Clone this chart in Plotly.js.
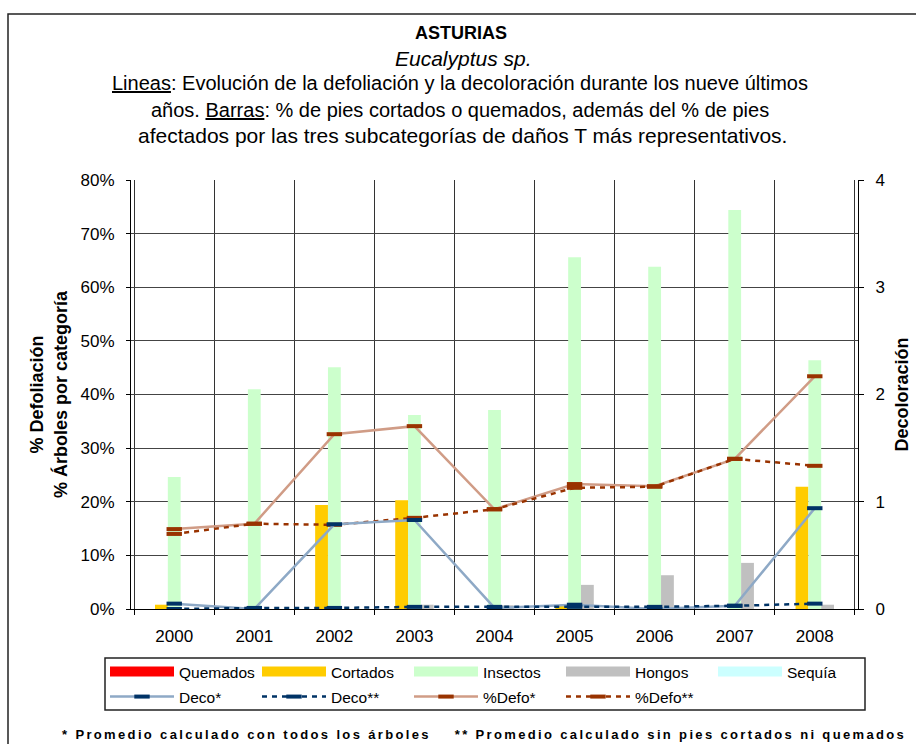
<!DOCTYPE html>
<html>
<head>
<meta charset="utf-8">
<script src="https://cdn.plot.ly/plotly-3.0.1.min.js"></script>
<style>
  html, body { margin: 0; padding: 0; background: #fff; }
  #chart { width: 916px; height: 744px; }
</style>
</head>
<body>
<div id="chart"></div>
<script>
(function() {
  var FONT = 'Liberation Sans, Arial, sans-serif';

  // categories
  var years = ['2000','2001','2002','2003','2004','2005','2006','2007','2008'];

  // bars, % of trees (left axis)
  var quemados = [0, 0, 0, 0, 0, 0, 0, 0, 0];
  var cortados = [0.8, 0, 19.4, 20.3, 0, 0.6, 0, 0, 22.8];
  var insectos = [24.6, 41.0, 45.1, 36.2, 37.1, 65.6, 63.8, 74.4, 46.4];
  var hongos   = [0, 0, 0, 0.8, 0.7, 4.5, 6.3, 8.6, 0.8];
  var sequia   = [0, 0, 0, 0, 0, 0, 0, 0, 0];

  // lines
  var deco1 = [0.05, 0.0, 0.79, 0.83, 0.01, 0.04, 0.0, 0.03, 0.94];   // right axis
  var deco2 = [0.0, 0.01, 0.01, 0.02, 0.02, 0.02, 0.02, 0.03, 0.05]; // right axis
  var defo1 = [14.9, 15.9, 32.6, 34.1, 18.6, 23.3, 22.9, 28.0, 43.4];
  var defo2 = [14.0, 15.9, 15.7, 17.0, 18.6, 22.6, 22.8, 28.0, 26.7];

  var BAR_NAMES  = ['Quemados','Cortados','Insectos','Hongos','Sequía'];
  var BAR_COLORS = ['#FF0000','#FFCC00','#CCFFCC','#C0C0C0','#CCFFFF'];
  var barVals = [quemados, cortados, insectos, hongos, sequia];

  var traces = [];

  // legend-only swatches (wide, flat like the original key)
  BAR_NAMES.forEach(function(n, i) {
    traces.push({
      x: [null], y: [null], type: 'scatter', mode: 'lines', name: n,
      line: {color: BAR_COLORS[i], width: 10}, hoverinfo: 'skip', legend: 'legend'
    });
  });

  barVals.forEach(function(v, i) {
    traces.push({
      x: years, y: v, type: 'bar', name: BAR_NAMES[i],
      marker: {color: BAR_COLORS[i], line: {width: 0}}, showlegend: false
    });
  });

  function lineTrace(name, y, axis, color, mcolor, dash, width) {
    return {
      x: years, y: y, yaxis: axis, type: 'scatter', mode: 'lines+markers',
      name: name, legend: 'legend2',
      line: {color: color, width: width, dash: dash},
      marker: {symbol: 'line-ew', size: 11, color: mcolor,
               line: {color: mcolor, width: 4}}
    };
  }

  traces.push(lineTrace('Deco*',  deco1, 'y2', '#8EA9C6', '#003366', 'solid', 2.5));
  traces.push(lineTrace('Deco**', deco2, 'y2', '#003366', '#003366', '5px,5px', 2.5));
  traces.push(lineTrace('%Defo*',  defo1, 'y', '#D09C86', '#993300', 'solid', 2.5));
  traces.push(lineTrace('%Defo**', defo2, 'y', '#993300', '#993300', '5px,5px', 2.5));

  function f(size, extra) {
    var o = {family: FONT, color: '#000', size: size};
    for (var k in extra) o[k] = extra[k];
    return o;
  }

  var py = function(px) { return (609 - px) / 429; };   // pixel row -> paper y
  var pxX = function(px) { return (px - 131) / 727; };  // pixel col -> paper x

  var annotations = [
    {text: 'ASTURIAS', x: pxX(461), y: py(33), font: f(18, {weight: 'bold'})},
    {text: 'Eucalyptus sp.', x: pxX(463), y: py(58), font: f(21, {style: 'italic'})},
    {text: '<span style="text-decoration:underline">Lineas</span>: Evolución de la defoliación y la decoloración durante los nueve últimos',
     x: pxX(460), y: py(83), font: f(20)},
    {text: 'años. <span style="text-decoration:underline">Barras</span>: % de pies cortados o quemados, además del % de pies',
     x: pxX(460), y: py(110), font: f(20)},
    {text: 'afectados por las tres subcategorías de daños T más representativos.',
     x: pxX(462), y: py(136), font: f(21)},
    {text: '* Promedio calculado con todos los árboles    ** Promedio calculado sin pies cortados ni quemados',
     x: pxX(484), y: py(734), font: f(13, {weight: 'bold'})}
  ].map(function(a) {
    a.xref = 'paper'; a.yref = 'paper'; a.showarrow = false;
    a.xanchor = 'center'; a.yanchor = 'middle';
    return a;
  });

  var shapes = [
    // outer chart frame
    {type: 'rect', xref: 'paper', yref: 'paper', x0: pxX(8), x1: pxX(940), y0: py(780), y1: py(14),
     line: {color: '#222', width: 1.5}},
    // legend frame
    {type: 'rect', xref: 'paper', yref: 'paper', x0: pxX(105), x1: pxX(865), y0: py(710), y1: py(658),
     line: {color: '#222', width: 1.5}}
  ];

  var legendBase = {
    orientation: 'h', xanchor: 'left', yanchor: 'middle', x: pxX(105),
    itemwidth: 64, entrywidth: 73, font: f(15.5), bgcolor: 'rgba(0,0,0,0)',
    borderwidth: 0, itemclick: false, itemdoubleclick: false
  };
  var legend1 = Object.assign({}, legendBase, {y: py(672)});
  var legend2 = Object.assign({}, legendBase, {y: py(697)});

  var layout = {
    width: 916, height: 744,
    margin: {l: 131, r: 58, t: 180, b: 135},
    paper_bgcolor: '#fff', plot_bgcolor: '#fff',
    font: f(15),
    barmode: 'group', bargap: 0.2, bargroupgap: 0,
    showlegend: true,
    legend: legend1, legend2: legend2,
    xaxis: {
      type: 'category', tickson: 'boundaries',
      showgrid: true, gridcolor: '#333', gridwidth: 1,
      ticks: 'outside', ticklen: 5, tickcolor: '#000',
      showline: true, linecolor: '#000', linewidth: 1,
      tickfont: f(17), ticklabelstandoff: 12, fixedrange: true
    },
    yaxis: {
      range: [0, 80], dtick: 10, ticksuffix: '%',
      showgrid: true, gridcolor: '#444', gridwidth: 1, zeroline: false,
      ticks: 'outside', ticklen: 4, tickcolor: '#000',
      showline: true, linecolor: '#000', linewidth: 1,
      tickfont: f(17), ticklabelstandoff: 8,
      title: {text: '% Defoliación<br>% Árboles por categoría',
              font: f(18, {weight: 'bold'}), standoff: 8},
      fixedrange: true
    },
    yaxis2: {
      overlaying: 'y', side: 'right', range: [0, 4], dtick: 1,
      showgrid: false, zeroline: false,
      ticks: 'outside', ticklen: 5, tickcolor: '#000',
      showline: true, linecolor: '#000', linewidth: 1,
      tickfont: f(17), ticklabelstandoff: 8,
      title: {text: 'Decoloración', font: f(18, {weight: 'bold'}), standoff: 11},
      fixedrange: true
    },
    annotations: annotations,
    shapes: shapes,
    hovermode: 'x unified'
  };

  Plotly.newPlot('chart', traces, layout, {displayModeBar: false, responsive: false})
    .then(function(gd) {
      gd.querySelectorAll('.annotation-text').forEach(function(t) {
        if (t.textContent.indexOf('* Promedio') === 0) t.style.letterSpacing = '2.35px';
      });
    });
})();
</script>
</body>
</html>
